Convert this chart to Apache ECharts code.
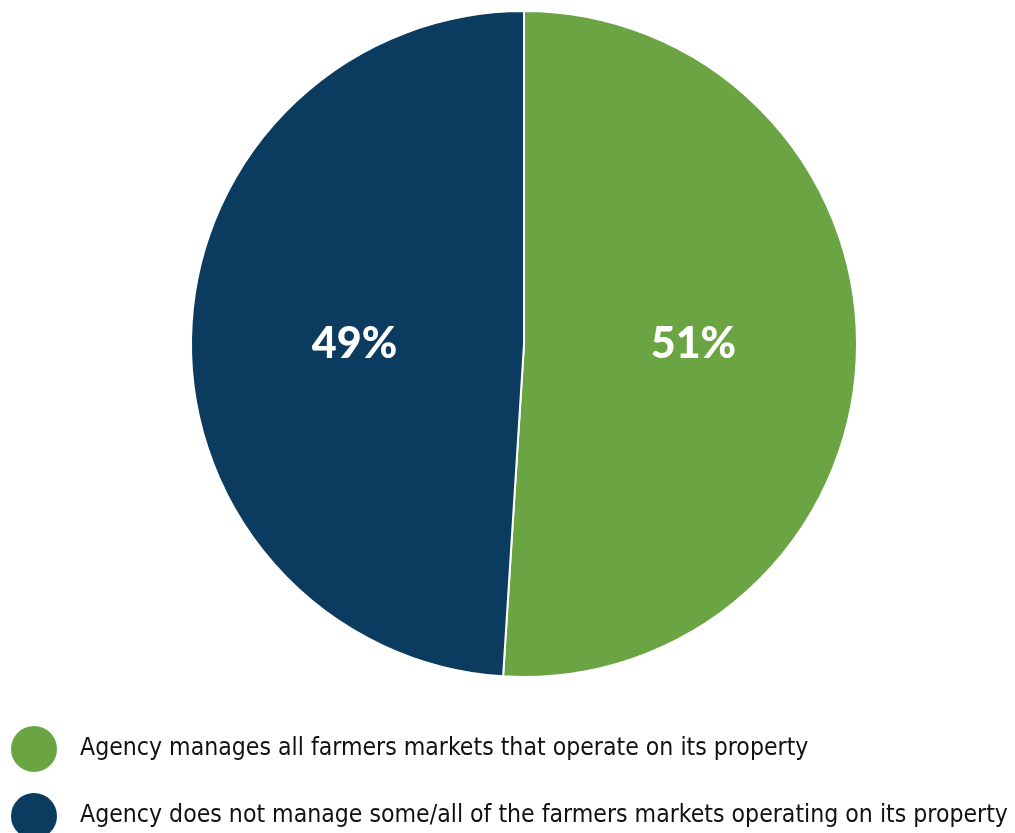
<!DOCTYPE html>
<html><head><meta charset="utf-8">
<script src="https://cdn.jsdelivr.net/npm/echarts@6/dist/echarts.min.js"></script>
<style>html,body{margin:0;padding:0;background:#fff}#c{width:1015px;height:833px}</style>
</head><body><div id="c"></div>
<script>
const categories = ["Agency manages all farmers markets that operate on its property", "Agency does not manage some/all of the farmers markets operating on its property"];
const values = [51, 49];
const colors = ["#6BA443", "#0C3B60"];

const legendText = { fontFamily: 'DejaVu Sans Condensed', fontSize: 24.6, color: '#111', padding: [0,0,0,17] };
const chart = echarts.init(document.getElementById('c'));
chart.setOption({
  animation: false,
  legend: categories.map((c, i) => ({
    orient: 'vertical',
    left: 9, top: 724 + i * 67,
    icon: 'circle',
    itemWidth: 48, itemHeight: 48,
    selectedMode: false,
    padding: 0,
    textStyle: legendText,
    data: [c]
  })),
  series: [{
    type: 'pie',
    center: [524, 344],
    radius: [0, 333],
    startAngle: 90,
    clockwise: true,
    silent: true,
    itemStyle: { borderColor: '#fff', borderWidth: 2 },
    label: {
      show: true, position: 'inside',
      formatter: p => p.value + '%',
      color: '#fff', fontFamily: 'Lato', fontWeight: 900, fontSize: 43
    },
    labelLine: { show: false },
    data: categories.map((n, i) => ({
      name: n, value: values[i], itemStyle: { color: colors[i] },
      label: { offset: [0, i === 0 ? -5 : 5] }
    }))
  }]
});
</script></body></html>
